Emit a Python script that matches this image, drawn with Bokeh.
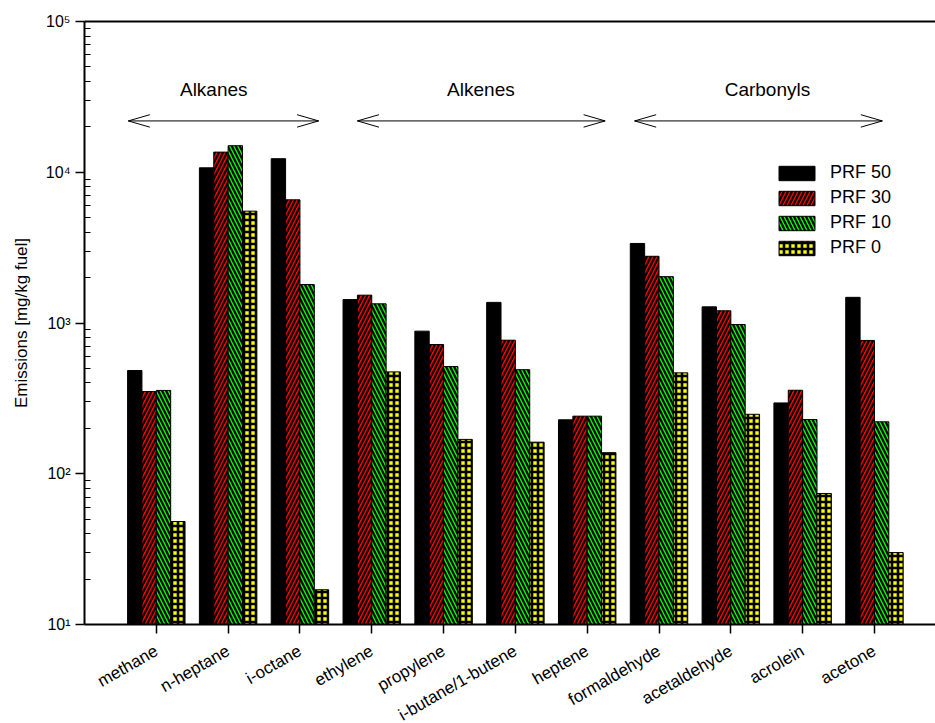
import math

from bokeh.core.properties import value
from bokeh.embed import file_html
from bokeh.layouts import column
from bokeh.models import (ColumnDataSource, FixedTicker, Legend, LegendItem,
                          LinearAxis, Range1d)
from bokeh.plotting import figure
from bokeh.resources import INLINE

# Exhaust emissions per compound for four primary reference fuels
compounds = ["methane", "n-heptane", "i-octane", "ethylene", "propylene",
             "i-butane/1-butene", "heptene", "formaldehyde", "acetaldehyde",
             "acrolein", "acetone"]
prf50 = [484, 10700, 12300, 1430, 883, 1370, 228, 3370, 1280, 295, 1480]
prf30 = [351, 13600, 6560, 1530, 720, 769, 241, 2770, 1205, 358, 766]
prf10 = [357, 15000, 1800, 1340, 514, 490, 241, 2030, 977, 229, 221]
prf0 = [48.2, 5520, 17.0, 474, 169, 162, 138, 467, 248, 74, 30]
series_names = ["PRF 50", "PRF 30", "PRF 10", "PRF 0"]

# Compound classes marked with double arrows above the bars
groups = ["Alkanes", "Alkenes", "Carbonyls"]
group_arrow_start = [-0.39, 2.80, 6.66]
group_arrow_end = [2.26, 6.25, 10.11]
group_label_x = [0.80, 4.52, 8.51]

y_ticks = [10, 100, 1000, 10000, 100000]
y_tick_labels = ["10\u00b9", "10\u00b2", "10\u00b3", "10\u2074", "10\u2075"]
y_min, y_max = 10, 100000

FONT = "Liberation Sans"
W = 935
LEFT, TOP = 84, 21
MAIN_H = 634          # chart part, including room for the tick marks
NAMES_H = 89          # strip below it that carries the slanted names

x_range = Range1d(-1.0, 10.85)

p = figure(width=W, height=MAIN_H, y_axis_type="log",
           x_range=x_range, y_range=Range1d(y_min, y_max),
           output_backend="svg", toolbar_location=None,
           min_border_left=LEFT, min_border_right=0,
           min_border_top=TOP, min_border_bottom=10)
p.outline_line_color = None
p.xgrid.visible = False
p.ygrid.visible = False
p.background_fill_color = "white"
p.border_fill_color = "white"

# Bar styles: solid, right hatch, left hatch, grid
styles = [
    dict(fill_color="black"),
    dict(fill_color="#ff0000", hatch_pattern="right_diagonal_line",
         hatch_color="black", hatch_scale=8, hatch_weight=2.2),
    dict(fill_color="#00ff00", hatch_pattern="left_diagonal_line",
         hatch_color="black", hatch_scale=8, hatch_weight=2.2),
    dict(fill_color="#ffff00", hatch_pattern="cross",
         hatch_color="black", hatch_scale=6, hatch_weight=2.6),
]
offsets = [-0.3, -0.1, 0.1, 0.3]
bar_width = 0.2

items = []
for name, vals, off, st in zip(series_names, [prf50, prf30, prf10, prf0],
                               offsets, styles):
    src = ColumnDataSource(dict(x=[i + off for i in range(len(compounds))],
                                top=vals, bottom=[1] * len(vals)))
    r = p.vbar(x="x", top="top", bottom="bottom", width=bar_width, source=src,
               line_color="black", line_width=1, **st)
    items.append(LegendItem(label=name, renderers=[r]))

legend = Legend(items=items, location=(690, 366), padding=0, margin=0,
                border_line_color=None, background_fill_alpha=0,
                glyph_width=45, glyph_height=18, label_height=20, spacing=4,
                label_standoff=11, label_text_font=FONT,
                label_text_font_size="18px", label_text_color="black")
p.add_layout(legend)

# Double-headed arrows with long open heads
arrow_y = 21900
head_len = 0.30
head_spread = 1.10
xs, ys = [], []
for a, b in zip(group_arrow_start, group_arrow_end):
    xs.append([a, b])
    ys.append([arrow_y, arrow_y])
    xs.append([a + head_len, a, a + head_len])
    ys.append([arrow_y * head_spread, arrow_y, arrow_y / head_spread])
    xs.append([b - head_len, b, b - head_len])
    ys.append([arrow_y * head_spread, arrow_y, arrow_y / head_spread])
p.multi_line(xs=xs, ys=ys, line_color="black", line_width=1)

p.text(x=group_label_x, y=[35400] * len(groups), text=groups,
       text_font=value(FONT), text_font_size="19px", text_color="black",
       text_align="center", text_baseline="middle")

# Bottom axis: line and outward ticks, names go in the strip below
xa = p.xaxis[0]
xa.ticker = FixedTicker(ticks=list(range(len(compounds))))
xa.major_label_overrides = {i: "" for i in range(len(compounds))}
xa.major_label_text_font_size = "0px"
xa.major_label_standoff = 0
xa.major_tick_out = 9
xa.major_tick_in = 0
xa.minor_tick_line_color = None
xa.axis_line_width = 2
xa.major_tick_line_width = 1.5

# Log axis on the left
ya = p.yaxis[0]
ya.ticker = FixedTicker(
    ticks=y_ticks,
    minor_ticks=[k * 10 ** e for e in range(1, 5) for k in range(2, 10)])
ya.major_label_overrides = dict(zip(y_ticks, y_tick_labels))
ya.major_label_text_font = FONT
ya.major_label_text_font_size = "16px"
ya.major_label_text_color = "black"
ya.major_label_standoff = 5
ya.major_tick_out = 9
ya.major_tick_in = 0
ya.minor_tick_in = 6
ya.minor_tick_out = 0
ya.axis_line_width = 2
ya.major_tick_line_width = 1.5
ya.minor_tick_line_width = 1.2
ya.axis_label = "Emissions [mg/kg fuel]"
ya.axis_label_text_font = FONT
ya.axis_label_text_font_size = "17px"
ya.axis_label_text_font_style = "normal"
ya.axis_label_text_color = "black"
ya.axis_label_standoff = 12

# Plain frame line along the top
top = LinearAxis(ticker=FixedTicker(ticks=[]), major_tick_out=0,
                 major_tick_in=0, minor_tick_out=0, minor_tick_in=0,
                 major_label_text_font_size="0px", axis_line_width=2)
p.add_layout(top, "above")

# Strip with the slanted compound names, sharing the category scale
names = figure(width=W, height=NAMES_H, x_range=x_range,
               y_range=Range1d(0, NAMES_H), x_axis_location=None,
               y_axis_location=None, output_backend="svg",
               toolbar_location=None, min_border_left=LEFT,
               min_border_right=0, min_border_top=0, min_border_bottom=0)
names.outline_line_color = None
names.xgrid.visible = False
names.ygrid.visible = False
names_drop = 15       # px from the strip top to the end of each name
names.text(x=list(range(len(compounds))),
           y=[NAMES_H - names_drop] * len(compounds), text=compounds,
           angle=math.pi / 6, text_align="right", text_baseline="middle",
           text_font=value(FONT), text_font_size="17px", text_color="black")

layout = column(p, names)
open("out.html", "w").write(file_html(layout, INLINE))
